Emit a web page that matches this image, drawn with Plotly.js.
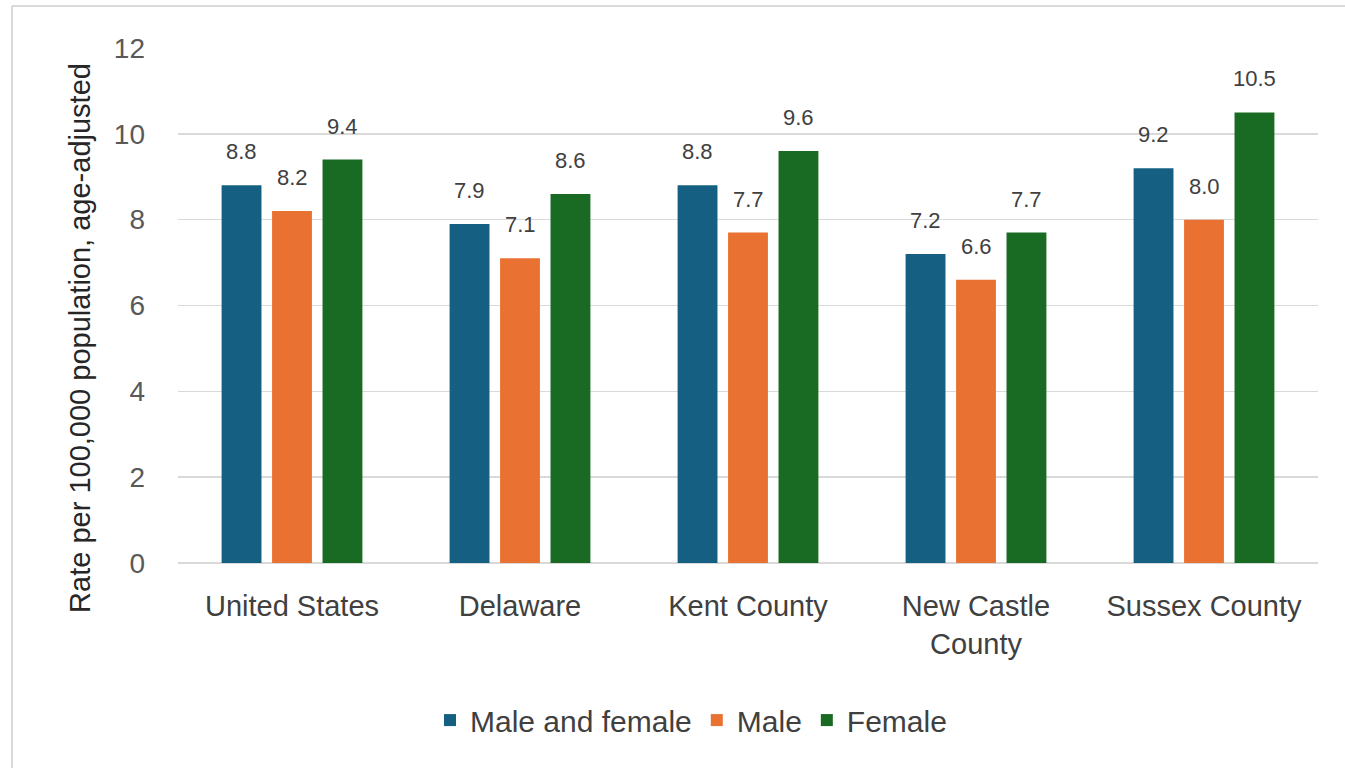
<!DOCTYPE html>
<html>
<head>
<meta charset="utf-8">
<script src="https://cdn.plot.ly/plotly-3.0.1.min.js"></script>
<style>html,body{margin:0;padding:0;background:#fff;}#chart{width:1345px;height:768px;}</style>
</head>
<body>
<div id="chart"></div>
<script>
const categories = ["United States", "Delaware", "Kent County", "New Castle<br>County", "Sussex County"];
const seriesNames = ["Male and female", "Male", "Female"];
const bothValues = [8.8, 7.9, 8.8, 7.2, 9.2];
const maleValues = [8.2, 7.1, 7.7, 6.6, 8.0];
const femaleValues = [9.4, 8.6, 9.6, 7.7, 10.5];
const seriesColors = ["#156082", "#E97132", "#196B24"];
const yTickValues = [0, 2, 4, 6, 8, 10, 12];
const yTitle = "Rate per 100,000 population, age-adjusted";

const FONT = "Liberation Sans, Arial, sans-serif";
const allValues = [bothValues, maleValues, femaleValues];

const traces = allValues.map((vals, i) => ({
  type: "bar",
  name: seriesNames[i],
  x: categories,
  y: vals,
  marker: {color: seriesColors[i]},
  hoverinfo: "skip"
}));

const slotShift = [-50.5, 0, 50.5];
const annotations = [];
allValues.forEach((vals, i) => {
  vals.forEach((v, j) => {
    annotations.push({
      x: categories[j], y: v, xref: "x", yref: "y",
      text: v.toFixed(1), showarrow: false,
      xshift: slotShift[i], yshift: 19, yanchor: "bottom",
      font: {family: FONT, size: 22, color: "#404040"}
    });
  });
});
annotations.push({
  x: -0.086, y: 0.437, xref: "paper", yref: "paper",
  text: yTitle, textangle: -90, showarrow: false,
  xanchor: "center", yanchor: "middle",
  font: {family: FONT, size: 29, color: "#262626"}
});

const layout = {
  width: 1345, height: 768,
  margin: {l: 178, r: 27, t: 48, b: 205},
  paper_bgcolor: "#ffffff", plot_bgcolor: "#ffffff",
  barmode: "group", bargap: 0.336, bargroupgap: 0.21,
  showlegend: true,
  legend: {
    orientation: "h", x: 0.45, xanchor: "center", y: -0.305, yanchor: "middle",
    font: {family: FONT, size: 30, color: "#404040"},
    traceorder: "normal", itemclick: false
  },
  xaxis: {
    type: "category", showgrid: false, showline: false, ticks: "",
    tickfont: {family: FONT, size: 29, color: "#404040"},
    ticklabelstandoff: 23, fixedrange: true
  },
  yaxis: {
    range: [0, 12], tickvals: yTickValues, showgrid: true, gridcolor: "#d9d9d9", gridwidth: 1.5,
    zeroline: true, zerolinecolor: "#d9d9d9", zerolinewidth: 2, showline: false, ticks: "",
    tickfont: {family: FONT, size: 28, color: "#595959"},
    ticklabelstandoff: 32, fixedrange: true
  },
  annotations: annotations,
  shapes: [
    {type: "line", xref: "paper", yref: "paper", x0: -0.1456, x1: 1.05, y0: 1.0816, y1: 1.0816, line: {color: "#d9d9d9", width: 2}},
    {type: "line", xref: "paper", yref: "paper", x0: -0.1456, x1: -0.1456, y0: 1.0816, y1: -0.45, line: {color: "#d9d9d9", width: 2}}
  ]
};

Plotly.newPlot("chart", traces, layout, {displayModeBar: false, staticPlot: true});
</script>
</body>
</html>
